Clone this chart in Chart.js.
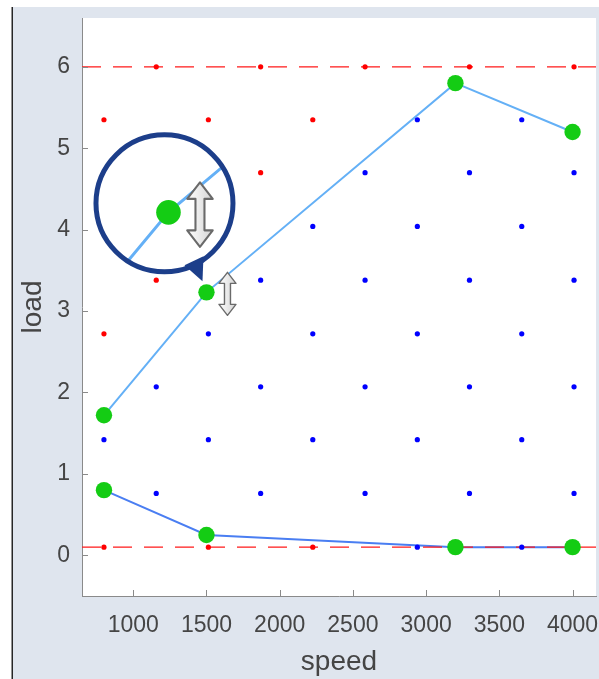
<!DOCTYPE html>
<html><head><meta charset="utf-8">
<script src="https://cdn.jsdelivr.net/npm/chart.js@4"></script>
<style>html,body{margin:0;padding:0;background:#fff;}#wrap{width:599px;height:679px;}</style>
</head><body><div id="wrap"><canvas id="c" width="599" height="679"></canvas></div>
<script>
// ---- data ----
const xTicks = [1000, 1500, 2000, 2500, 3000, 3500, 4000];
const yTicks = [0, 1, 2, 3, 4, 5, 6];
const xRange = [650, 4160];
const yRange = [-0.5, 6.6];
const speedUpper = [800, 1500, 3200, 4000];
const loadUpper = [1.72, 3.23, 5.8, 5.2];
const speedLower = [800, 1500, 3200, 4000];
const loadLower = [0.8, 0.25, 0.1, 0.1];
const limitLoads = [0.1, 6.0];
const gridSpeeds = [800, 1157, 1513, 1870, 2226, 2583, 2940, 3296, 3653, 4010];
const gridLoads = [0.1, 0.76, 1.42, 2.07, 2.72, 3.38, 4.04, 4.7, 5.35, 6.0];
// one letter per grid column: R = red, B = blue, . = none
const gridFlags = [
  "R.R.R.B.B.",
  ".B.B.B.B.B",
  "B.B.B.B.B.",
  ".B.B.B.B.B",
  "R.B.B.B.B.",
  ".R.B.B.B.B",
  "R.R.B.B.B.",
  ".R.R.B.B.B",
  "R.R.R.B.B.",
  ".R.R.R.R.R"
];
const cursorPoint = { x: 1500, y: 3.23 };

// ---- build ----
const toPts = (xs, ys) => xs.map((x, i) => ({ x: x, y: ys[i] }));
const redPts = [], bluePts = [];
gridFlags.forEach((row, r) => {
  row.split('').forEach((f, c) => {
    if (f === 'R') redPts.push({ x: gridSpeeds[c], y: gridLoads[r] });
    else if (f === 'B') bluePts.push({ x: gridSpeeds[c], y: gridLoads[r] });
  });
});
const FONT = "'Liberation Sans', Arial, Helvetica, sans-serif";
const TXT = '#454545';
const AXIS = '#8a8a8a';

function drawCursor(ctx, cx, cy, s) {
  const h = 21.5, hh = 11, hw = 8.5, sw = 3;
  ctx.save();
  ctx.translate(cx, cy);
  ctx.scale(s, s);
  ctx.beginPath();
  ctx.moveTo(0, -h); ctx.lineTo(hw, -h + hh); ctx.lineTo(sw, -h + hh);
  ctx.lineTo(sw, h - hh); ctx.lineTo(hw, h - hh); ctx.lineTo(0, h);
  ctx.lineTo(-hw, h - hh); ctx.lineTo(-sw, h - hh); ctx.lineTo(-sw, -h + hh);
  ctx.lineTo(-hw, -h + hh); ctx.closePath();
  const g = ctx.createLinearGradient(-hw, 0, hw, 0);
  g.addColorStop(0, '#ffffff'); g.addColorStop(1, '#d4d4d4');
  ctx.fillStyle = g; ctx.fill();
  ctx.lineWidth = 1.4; ctx.strokeStyle = '#6a6a6a'; ctx.lineJoin = 'round';
  ctx.stroke();
  ctx.restore();
}

const bgPlugin = {
  id: 'bg',
  beforeDraw(chart) {
    const ctx = chart.ctx, ca = chart.chartArea;
    ctx.save();
    ctx.fillStyle = '#ffffff'; ctx.fillRect(0, 0, chart.width, chart.height);
    ctx.fillStyle = '#dfe5ee'; ctx.fillRect(13, 7, chart.width - 13, chart.height - 7);
    ctx.fillStyle = '#262626'; ctx.fillRect(11.5, 7, 1.5, chart.height - 7);
    ctx.fillStyle = '#ffffff'; ctx.fillRect(ca.left, ca.top, ca.right - ca.left, ca.bottom - ca.top);
    ctx.restore();
  }
};

const tickPlugin = {
  id: 'inticks',
  afterDraw(chart) {
    const ctx = chart.ctx, xs = chart.scales.x, ys = chart.scales.y, ca = chart.chartArea;
    ctx.save();
    ctx.strokeStyle = AXIS; ctx.lineWidth = 1;
    ctx.beginPath();
    xs.ticks.forEach(t => { const p = Math.round(xs.getPixelForValue(t.value)) + 0.5; ctx.moveTo(p, ca.bottom); ctx.lineTo(p, ca.bottom - 6); });
    ys.ticks.forEach(t => { const p = Math.round(ys.getPixelForValue(t.value)) + 0.5; ctx.moveTo(ca.left, p); ctx.lineTo(ca.left + 6, p); });
    ctx.stroke();
    ctx.restore();
  }
};

const magPlugin = {
  id: 'magnifier',
  afterDraw(chart) {
    const ctx = chart.ctx, xs = chart.scales.x, ys = chart.scales.y;
    const P = { x: xs.getPixelForValue(cursorPoint.x), y: ys.getPixelForValue(cursorPoint.y) };
    const C = { x: P.x - 42, y: P.y - 89 };
    const M = { x: P.x - 38, y: P.y - 80 };
    const R = 68.5, Z = 1.5;
    drawCursor(ctx, P.x + 21, P.y + 1.5, 1);
    ctx.save();
    ctx.beginPath(); ctx.arc(C.x, C.y, R, 0, Math.PI * 2); ctx.clip();
    ctx.fillStyle = '#ffffff'; ctx.fillRect(C.x - R, C.y - R, 2 * R, 2 * R);
    ctx.translate(M.x, M.y); ctx.scale(Z, Z); ctx.translate(-P.x, -P.y);
    for (let i = chart.data.datasets.length - 1; i >= 0; i--) {
      chart.getDatasetMeta(i).controller.draw();
    }
    drawCursor(ctx, P.x + 21, P.y + 1.5, 1);
    ctx.restore();
    ctx.save();
    ctx.strokeStyle = '#1c3e8a'; ctx.lineWidth = 5;
    ctx.beginPath(); ctx.arc(C.x, C.y, R, 0, Math.PI * 2); ctx.stroke();
    ctx.fillStyle = '#1c3e8a';
    ctx.beginPath();
    ctx.moveTo(P.x - 22, P.y - 27); ctx.lineTo(P.x - 3, P.y - 36); ctx.lineTo(P.x - 4, P.y - 11);
    ctx.closePath(); ctx.fill();
    ctx.restore();
  }
};

const limitSets = limitLoads.map(v => ({
  data: [{ x: xRange[0], y: v }, { x: xRange[1], y: v }],
  showLine: true, borderColor: '#ff1a1a', borderWidth: 1.4, borderDash: [19, 12],
  pointRadius: 0
}));

const noPad = s => { s.paddingLeft = 0; s.paddingRight = 0; s.paddingTop = 0; s.paddingBottom = 0; };

new Chart(document.getElementById('c'), {
  type: 'scatter',
  data: {
    datasets: [
      { data: toPts(speedUpper, loadUpper).concat(toPts(speedLower, loadLower)),
        pointRadius: 8.2, pointBackgroundColor: '#14cc14', pointBorderWidth: 0, pointBorderColor: '#14cc14' },
      { data: redPts, pointRadius: 2.6, pointBackgroundColor: '#ff0000', pointBorderWidth: 0 },
      { data: bluePts, pointRadius: 2.6, pointBackgroundColor: '#0000ff', pointBorderWidth: 0 },
      ...limitSets,
      { data: toPts(speedUpper, loadUpper), showLine: true, borderColor: '#64b0f6', borderWidth: 2, pointRadius: 0 },
      { data: toPts(speedLower, loadLower), showLine: true, borderColor: '#4a7ef2', borderWidth: 2, pointRadius: 0 }
    ]
  },
  options: {
    responsive: false, animation: false, devicePixelRatio: 1, events: [],
    layout: { autoPadding: false, padding: { left: 13, top: 18, right: 3, bottom: 0 } },
    plugins: { legend: { display: false }, tooltip: { enabled: false } },
    scales: {
      x: {
        type: 'linear', position: 'bottom', min: xRange[0], max: xRange[1],
        grid: { display: false, drawTicks: false },
        border: { display: true, color: AXIS, width: 1 },
        ticks: { color: TXT, font: { family: FONT, size: 23 }, padding: 16, maxRotation: 0, autoSkip: false, callback: v => String(v) },
        afterBuildTicks: s => { s.ticks = xTicks.map(v => ({ value: v })); },
        afterFit: s => { s.height = 83; noPad(s); },
        title: { display: true, text: 'speed', color: TXT, font: { family: FONT, size: 28 }, padding: { top: 0, bottom: 0 } }
      },
      y: {
        type: 'linear', position: 'left', min: yRange[0], max: yRange[1],
        grid: { display: false, drawTicks: false },
        border: { display: true, color: AXIS, width: 1 },
        ticks: { color: TXT, font: { family: FONT, size: 23 }, padding: 12, autoSkip: false, callback: v => String(v) },
        afterBuildTicks: s => { s.ticks = yTicks.map(v => ({ value: v })); },
        afterFit: s => { s.width = 69; noPad(s); },
        title: { display: true, text: 'load', color: TXT, font: { family: FONT, size: 28 }, padding: { top: 3, bottom: 0 } }
      }
    }
  },
  plugins: [bgPlugin, tickPlugin, magPlugin]
});
</script>
</body></html>
